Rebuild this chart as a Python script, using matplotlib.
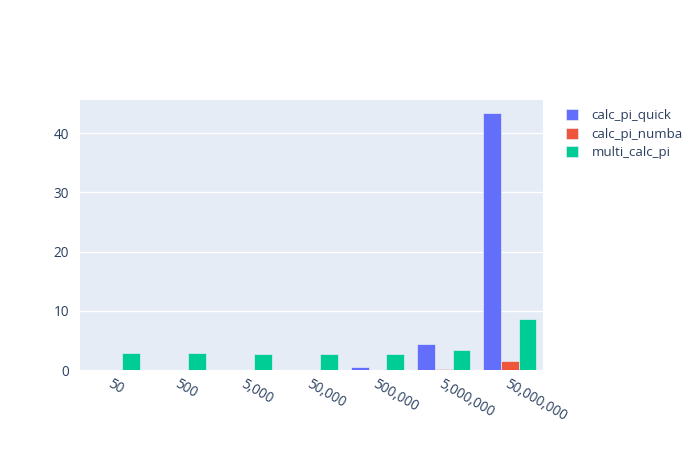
import numpy as np
import matplotlib.pyplot as plt

plt.rcParams['font.family'] = ['Open Sans', 'DejaVu Sans']

categories = ['50', '500', '5,000', '50,000', '500,000', '5,000,000', '50,000,000']
calc_pi_quick = [0.0005, 0.001, 0.004, 0.04, 0.45, 4.35, 43.3]
calc_pi_numba = [0.0002, 0.0003, 0.001, 0.005, 0.02, 0.15, 1.5]
multi_calc_pi = [2.9, 2.8, 2.7, 2.7, 2.7, 3.4, 8.55]

series = [
    ('calc_pi_quick', calc_pi_quick, '#636efa'),
    ('calc_pi_numba', calc_pi_numba, '#EF553B'),
    ('multi_calc_pi', multi_calc_pi, '#00cc96'),
]

textColor = '#2a3f5f'
fig = plt.figure(figsize=(7, 4.5), dpi=100)
ax = fig.add_axes([80 / 700, 80 / 450, 463 / 700, 270 / 450])
ax.set_facecolor('#E5ECF6')

x = np.arange(len(categories))
width = 0.8 / len(series)
for i, (name, vals, color) in enumerate(series):
    offset = (i - 1) * width
    ax.bar(x + offset, vals, width, color=color, edgecolor='#E5ECF6', linewidth=0.5, label=name, zorder=3)

ax.set_xlim(-0.5, len(categories) - 0.5)
ax.set_ylim(0, 45.57)
ax.set_yticks([0, 10, 20, 30, 40])
ax.grid(axis='y', color='white', linewidth=1, zorder=0)
ax.set_axisbelow(True)
for s in ax.spines.values():
    s.set_visible(False)

ax.set_xticks(x)
ax.set_xticklabels(categories, rotation=-30, ha='left', rotation_mode='anchor')
ax.tick_params(axis='both', length=0, colors=textColor, labelsize=9.8)
ax.tick_params(axis='x', pad=5)
ax.tick_params(axis='y', pad=8)

leg = ax.legend(loc='upper left', bbox_to_anchor=(1.03, 1.0), frameon=False,
                fontsize=9.6, handlelength=0.9, handleheight=0.9, labelspacing=0.4,
                handletextpad=1.0, borderaxespad=0.3)
for t in leg.get_texts():
    t.set_color(textColor)

fig.savefig('out.png', dpi=100)
